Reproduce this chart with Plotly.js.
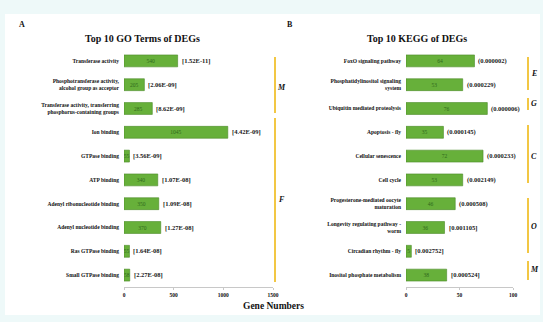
<!DOCTYPE html>
<html>
<head>
<meta charset="utf-8">
<script src="https://cdn.plot.ly/plotly-3.0.1.min.js"></script>
<style>
html,body{margin:0;padding:0;background:#eef9f9;}
#chart{width:543px;height:322px;}
</style>
</head>
<body>
<div id="chart"></div>
<script>
// ---- Data: panel A (GO terms) ----
const goTerms = [
  "Transferase activity",
  "Phosphotransferase activity,<br>alcohol group as acceptor",
  "Transferase activity, transferring<br>phosphorus-containing groups",
  "Ion binding",
  "GTPase binding",
  "ATP binding",
  "Adenyl ribonucleotide binding",
  "Adenyl nucleotide binding",
  "Ras GTPase binding",
  "Small GTPase binding"
];
const goCounts = [540, 205, 285, 1045, 55, 340, 350, 370, 55, 58];
const goPvals = ["[1.52E-11]", "[2.06E-09]", "[8.62E-09]", "[4.42E-09]", "[3.56E-09]",
                 "[1.07E-08]", "[1.09E-08]", "[1.27E-08]", "[1.64E-08]", "[2.27E-08]"];
const goTicks = [0, 500, 1000, 1500];

// ---- Data: panel B (KEGG pathways) ----
const keggTerms = [
  "FoxO signaling pathway",
  "Phosphatidylinositol signaling<br>system",
  "Ubiquitin mediated proteolysis",
  "Apoptosis - fly",
  "Cellular senescence",
  "Cell cycle",
  "Progesterone-mediated oocyte<br>maturation",
  "Longevity regulating pathway -<br>worm",
  "Circadian rhythm - fly",
  "Inositol phosphate metabolism"
];
const keggCounts = [64, 53, 76, 35, 72, 53, 46, 36, 5, 38];
const keggPvals = ["(0.000002)", "(0.000229)", "(0.000006)", "(0.000145)", "(0.000233)",
                   "(0.002149)", "(0.000508)", "[0.001105]", "[0.002752]", "[0.000524]"];
const keggTicks = [0, 50, 100];

const serif = "Liberation Serif";
const barFill = "#67b03a";
const barEdge = "#4a8a26";
const textGreen = "#2f6a1c";

const traces = [
  {
    type: "bar", orientation: "h",
    x: goCounts, y: goTerms, xaxis: "x", yaxis: "y",
    marker: {color: barFill, line: {color: barEdge, width: 0.6}},
    text: goCounts.map(String), textposition: "inside", insidetextanchor: "middle",
    constraintext: "none", textangle: 0,
    textfont: {family: serif, size: 5.5, color: textGreen},
    hoverinfo: "x+y"
  },
  {
    type: "bar", orientation: "h",
    x: keggCounts, y: keggTerms, xaxis: "x2", yaxis: "y2",
    marker: {color: barFill, line: {color: barEdge, width: 0.6}},
    text: keggCounts.map(String), textposition: "inside", insidetextanchor: "middle",
    constraintext: "none", textangle: 0,
    textfont: {family: serif, size: 5.5, color: textGreen},
    hoverinfo: "x+y"
  }
];

const annotations = [];
goCounts.forEach((v, i) => annotations.push({
  xref: "x", yref: "y", x: v, y: goTerms[i], text: "<b>" + goPvals[i] + "</b>",
  xanchor: "left", yanchor: "middle", xshift: 2, showarrow: false,
  font: {family: serif, size: 6.5, color: "#1a1a1a"}
}));
keggCounts.forEach((v, i) => annotations.push({
  xref: "x2", yref: "y2", x: v, y: keggTerms[i], text: "<b>" + keggPvals[i] + "</b>",
  xanchor: "left", yanchor: "middle", xshift: 2, showarrow: false,
  font: {family: serif, size: 6.5, color: "#1a1a1a"}
}));

function px(xp) { return xp / 543; }
function py(yp) { return 1 - yp / 322; }
function paperText(x, y, text, size) {
  return {xref: "paper", yref: "paper", x: px(x), y: py(y), text: text,
          xanchor: "center", yanchor: "middle", showarrow: false,
          font: {family: serif, size: size, color: "#111"}};
}

// titles and panel letters
annotations.push(
  paperText(142, 38, "<b>Top 10 GO Terms of DEGs</b>", 10),
  paperText(417, 38, "<b>Top 10 KEGG of DEGs</b>", 10),
  paperText(22, 25, "<b>A</b>", 8),
  paperText(290, 25, "<b>B</b>", 8),
  paperText(273, 306, "<b>Gene Numbers</b>", 9.5)
);

// bracket labels
const bracketLabels = [
  {x: 281, y: 87, t: "M"}, {x: 281, y: 200, t: "F"},
  {x: 534, y: 73, t: "E"}, {x: 534, y: 104, t: "G"}, {x: 534, y: 156, t: "C"},
  {x: 534, y: 226, t: "O"}, {x: 534, y: 269, t: "M"}
];
bracketLabels.forEach(b => annotations.push(
  paperText(b.x, b.y, "<i><b>" + b.t + "</b></i>", 8)
));

const brackets = [
  [275, 57, 113], [275, 118, 282],
  [528, 57, 90], [528, 98, 110], [528, 125, 183], [528, 198, 253], [528, 261, 280]
];
const shapes = [
  {type: "rect", xref: "paper", yref: "paper", x0: px(5), x1: px(540), y0: py(315), y1: py(14),
   fillcolor: "#ffffff", line: {width: 0}, layer: "below"}
];
brackets.forEach(b => shapes.push({
  type: "line", xref: "paper", yref: "paper", x0: px(b[0]), x1: px(b[0]), y0: py(b[1]), y1: py(b[2]),
  line: {color: "#f2c744", width: 2}
}));

const axisCommon = {
  showgrid: false, zeroline: false, showline: true, linecolor: "#c8c8c8", linewidth: 1,
  ticks: "outside", ticklen: 2, tickcolor: "#c8c8c8",
  tickfont: {family: serif, size: 5.5, color: "#111", weight: "bold"}
};
const yCommon = {
  showgrid: false, zeroline: false, showline: false, ticks: "",
  autorange: "reversed", type: "category",
  tickfont: {family: serif, size: 5.5, color: "#111", weight: "bold"},
  ticklabelstandoff: 4
};

const layout = {
  width: 543, height: 322,
  margin: {l: 0, r: 0, t: 0, b: 0},
  paper_bgcolor: "#eef9f9", plot_bgcolor: "rgba(0,0,0,0)",
  showlegend: false, bargap: 0.5,
  xaxis: Object.assign({}, axisCommon, {domain: [px(124), px(273)], range: [0, 1500],
    tickvals: goTicks, anchor: "y"}),
  yaxis: Object.assign({}, yCommon, {domain: [py(287), py(49)], anchor: "x"}),
  xaxis2: Object.assign({}, axisCommon, {domain: [px(406), px(513)], range: [0, 100],
    tickvals: keggTicks, anchor: "y2"}),
  yaxis2: Object.assign({}, yCommon, {domain: [py(287), py(49)], anchor: "x2"}),
  annotations: annotations,
  shapes: shapes
};

Plotly.newPlot("chart", traces, layout, {staticPlot: true, displayModeBar: false});
</script>
</body>
</html>
